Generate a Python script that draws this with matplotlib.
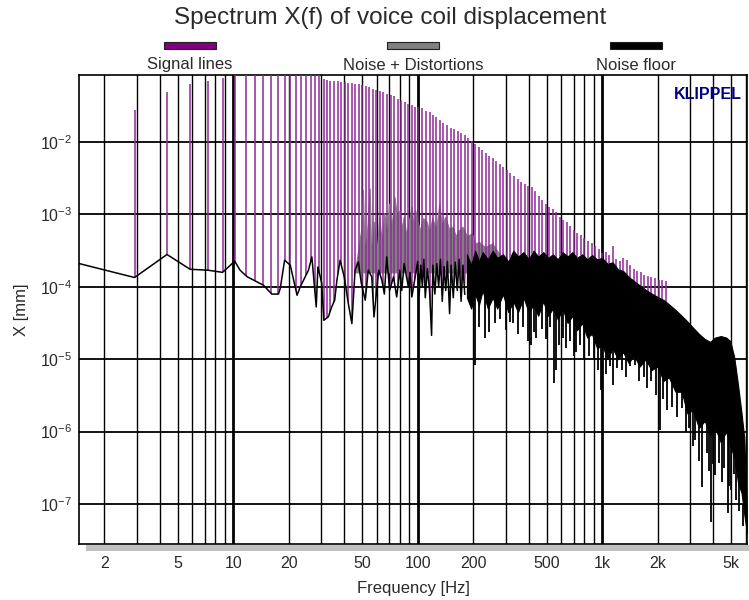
import numpy as np
import matplotlib
matplotlib.use("Agg")
import matplotlib.pyplot as plt
from matplotlib.patches import Rectangle, Polygon
from matplotlib.ticker import FixedLocator, FuncFormatter, NullLocator, LogFormatterSciNotation

plt.rcParams['font.family'] = ['Liberation Sans', 'DejaVu Sans']
plt.rcParams['mathtext.fontset'] = 'custom'
plt.rcParams['mathtext.rm'] = 'Liberation Sans'
plt.rcParams['mathtext.it'] = 'Liberation Sans'

# signal lines of the multitone: frequency [Hz] and log10 of X [mm]
signal_freq = [2.92, 4.38, 5.84, 7.30, 8.76, 10.2, 11.7, 13.1, 14.6, 16.1, 17.5, 19.0, 20.4, 21.9, 23.4, 24.8, 26.3, 27.7, 29.2,
               30.9, 32.3, 33.7, 35.2, 36.8, 38.5, 40.2, 42.0, 43.9, 45.9, 48.0, 50.1, 52.4, 54.7, 57.2, 59.8, 62.5, 65.3,
               68.2, 71.3, 74.5, 77.8, 81.3, 85.0, 88.8, 92.8, 97.0,
               101, 106, 111, 116, 121, 126, 132, 138, 144, 151, 157, 165, 172, 180, 188, 196, 205, 214, 224, 234,
               244, 255, 267, 279, 292, 305, 318, 333, 348, 363, 380, 397, 415, 433, 453, 473, 494, 517, 540, 564,
               590, 616, 644, 673, 703, 735, 768, 802, 838, 876, 916, 957, 1000, 1045, 1092, 1141, 1192, 1246, 1302, 1361,
               1422, 1486, 1553, 1622, 1695, 1772, 1851, 1935, 2022, 2113, 2208]
signal_exp = [-1.557, -1.304, -1.202, -1.152, -1.110, -1.0, -1.0, -1.0, -1.0, -1.0, -1.0, -1.0, -1.0, -1.0, -1.0, -1.0, -1.0, -1.0, -1.0,
              -1.13, -1.14, -1.15, -1.155, -1.16, -1.17, -1.175, -1.18, -1.19, -1.195, -1.20, -1.21, -1.23, -1.245, -1.26, -1.275, -1.29, -1.31,
              -1.33, -1.35, -1.37, -1.40, -1.43, -1.45, -1.47, -1.49, -1.51,
              -1.52, -1.535, -1.57, -1.59, -1.62, -1.66, -1.69, -1.73, -1.77, -1.80, -1.82, -1.85, -1.87, -1.90, -1.94, -1.98, -2.02, -2.07, -2.11, -2.15,
              -2.19, -2.22, -2.26, -2.30, -2.34, -2.39, -2.43, -2.47, -2.51, -2.55, -2.58, -2.60, -2.62, -2.68, -2.74, -2.80, -2.86, -2.90, -2.93, -2.97,
              -3.03, -3.07, -3.11, -3.16, -3.21, -3.25, -3.29, -3.33, -3.36, -3.40, -3.44, -3.48, -3.53, -3.52, -3.56, -3.43, -3.62, -3.64, -3.60, -3.63,
              -3.70, -3.76, -3.78, -3.79, -3.83, -3.85, -3.87, -3.88, -3.90, -3.91, -3.92]

# noise floor, low frequency part (single trace)
noise_freq = [1.46, 2.92, 4.38, 5.84, 7.30, 8.76, 10.2, 10.9, 11.9, 14.6, 16.2, 17.6, 18.0, 19.0, 20.4, 22.2, 23.1,
              25.6, 26.7, 27.1, 28.2, 28.8, 30.2, 31.0, 32.8, 34.2, 35.5, 36.5, 38.0, 40.0, 42.1, 44.0, 45.8, 47.7,
              49.5, 52.0, 54.0, 56.4, 58.0, 61.5, 64.0, 66.0, 68.0, 70.5, 74.0, 77.0, 80.0, 82.0, 84.5, 89.0, 91.0,
              93.0, 97.0, 100, 102, 104, 106, 108, 110, 113, 116, 119, 121, 124, 127, 130, 133, 136, 139, 142, 145,
              149, 152, 156, 160, 164, 168, 172, 176, 180]
noise_exp = [-3.678, -3.871, -3.553, -3.757, -3.77, -3.80, -3.646, -3.77, -3.86, -3.978, -4.10, -4.10, -4.02, -3.632, -3.70, -4.116, -4.0,
             -3.77, -3.586, -3.77, -4.278, -3.725, -3.95, -4.462, -4.415, -4.278, -4.185, -3.909, -3.632, -3.863, -4.231, -4.508, -3.77, -3.656,
             -3.95, -4.185, -3.77, -3.863, -4.416, -3.77, -3.909, -4.10, -3.586, -4.05, -3.863, -4.14, -3.77, -4.05, -3.678, -4.0, -3.80,
             -4.14, -3.863, -3.65, -4.10, -3.70, -4.00, -3.62, -4.15, -3.75, -4.05, -4.67, -3.70, -4.10, -3.68, -4.00, -3.62, -4.20, -3.72, -4.05, -3.65,
             -4.37, -3.70, -4.15, -3.66, -4.05, -3.62, -4.20, -3.70, -4.10]

# noise floor, dense part: upper and lower edge
dense_freq = [185, 195, 205, 215, 225, 240, 255, 270, 290, 310, 330, 350, 375, 400, 425, 450, 480, 510, 540, 575,
              610, 650, 690, 730, 780, 830, 880, 940, 1000, 1070, 1140, 1220, 1300, 1390, 1490, 1600, 1720, 1850, 2000,
              2150, 2300, 2500, 2700, 2900, 3100, 3350, 3600, 3850, 4100, 4400, 4700, 4950, 5200, 5450, 5700, 5900, 6100]
dense_hi = [-3.55, -3.70, -3.50, -3.65, -3.52, -3.62, -3.50, -3.60, -3.55, -3.65, -3.50, -3.58, -3.52, -3.62, -3.50, -3.58, -3.52, -3.60, -3.55, -3.62,
            -3.52, -3.58, -3.52, -3.60, -3.55, -3.62, -3.56, -3.62, -3.60, -3.68, -3.66, -3.76, -3.78, -3.86, -3.92, -3.98, -4.04, -4.09, -4.14,
            -4.18, -4.24, -4.32, -4.40, -4.48, -4.56, -4.65, -4.72, -4.76, -4.70, -4.68, -4.70, -4.75, -4.97, -5.35, -5.75, -6.10, -7.20]
dense_lo = [-4.15, -4.30, -4.10, -4.25, -4.05, -4.30, -4.15, -4.30, -4.10, -4.35, -4.20, -4.35, -4.15, -4.35, -4.25, -4.40, -4.20, -4.40, -4.30, -4.45,
            -4.30, -4.50, -4.40, -4.60, -4.50, -4.70, -4.65, -4.85, -4.80, -5.00, -4.85, -5.00, -4.90, -5.05, -4.95, -5.10, -5.00, -5.15, -5.10,
            -5.30, -5.25, -5.45, -5.45, -5.75, -5.70, -5.95, -5.85, -6.05, -5.95, -6.15, -6.00, -6.20, -6.35, -6.70, -6.85, -7.15, -7.40]

# downward spikes of the noise floor (bottom and top, log10 of X [mm])
spike_freq = [205, 215, 232, 244, 262, 280, 300, 318, 330, 352, 372, 395, 414, 428, 440, 470, 495, 520, 547, 560,
              585, 610, 640, 668, 700, 720, 760, 800, 850, 900, 950, 990,
              1050, 1100, 1143, 1200, 1280, 1350, 1420, 1500, 1580, 1680, 1760, 1850, 1950, 2050,
              2150, 2250, 2400, 2550, 2700, 2850, 2950, 3100, 3200, 3350, 3500, 3700, 3800, 3900, 4000, 4100, 4300,
              4450, 4600, 4800, 4900, 5000, 5200, 5350, 5500, 5800]
spike_bottom = [-5.08, -4.55, -4.70, -4.62, -4.50, -4.45, -4.60, -4.48, -4.50, -4.65, -4.55, -4.75, -4.80, -4.62, -4.70, -4.58, -4.72, -4.55, -5.33, -5.15,
                -4.80, -4.70, -4.85, -4.75, -4.95, -4.90, -4.80, -5.00, -4.95, -5.00, -5.15, -5.43,
                -5.20, -5.10, -5.36, -5.12, -5.15, -5.25, -5.10, -5.08, -5.30, -5.25, -5.40, -5.30, -5.50, -5.98,
                -5.55, -5.70, -5.66, -5.80, -5.68, -6.00, -5.95, -6.20, -6.12, -6.40, -6.77, -6.30, -6.55, -7.25, -6.45, -6.60, -6.44,
                -6.70, -6.50, -7.13, -6.75, -6.80, -6.58, -6.95, -7.10, -7.30]
spike_top = [-4.10, -4.10, -4.10, -4.10, -4.10, -4.10, -4.10, -4.10, -4.10, -4.15, -4.15, -4.15, -4.15, -4.15, -4.15, -4.20, -4.20, -4.20, -4.25, -4.25,
             -4.25, -4.30, -4.30, -4.35, -4.35, -4.40, -4.45, -4.50, -4.55, -4.60, -4.70, -4.75,
             -4.80, -4.80, -4.85, -4.85, -4.85, -4.90, -4.90, -4.90, -4.95, -4.95, -5.00, -5.00, -5.05, -5.05,
             -5.15, -5.20, -5.25, -5.35, -5.40, -5.60, -5.65, -5.70, -5.75, -5.80, -5.85, -5.90, -5.90, -5.95, -5.95, -5.95, -6.00,
             -6.00, -6.00, -6.05, -6.05, -6.10, -6.25, -6.40, -6.60, -7.00]

# noise + distortions (upper edge)
gray_freq = [46, 49.5, 50.5, 51.5, 53, 55, 56, 58, 60, 62, 64, 66, 68, 70, 72, 75, 77, 80, 82, 84, 87, 89, 93, 95, 97,
             100, 103, 107, 112, 116, 120, 126, 131, 135, 141, 148, 155, 161, 167, 175, 185, 197, 205, 215, 232, 254, 276, 300]
gray_exp = [-3.75, -3.2, -2.66, -3.5, -3.3, -2.64, -3.6, -3.1, -3.5, -3.03, -3.4, -2.98, -3.3, -2.85, -3.2, -2.76, -3.0, -2.94, -3.2, -3.03,
            -3.3, -3.12, -2.89, -3.2, -2.94, -3.1, -3.22, -3.05, -3.10, -3.25, -3.05, -3.2, -2.85, -3.15, -3.03, -3.2, -3.17, -3.3, -3.22, -3.17,
            -3.3, -3.26, -3.4, -3.38, -3.45, -3.40, -3.54, -3.6]
gray_floor = -3.8

# axis ticks
freq_major = [10, 100, 1000]
freq_minor = [2, 3, 4, 5, 6, 7, 8, 9, 20, 30, 40, 50, 60, 70, 80, 90,
              200, 300, 400, 500, 600, 700, 800, 900, 2000, 3000, 4000, 5000, 6000]
freq_labelled = [2, 5, 20, 50, 200, 500, 2000, 5000]
x_ticks = [1e-7, 1e-6, 1e-5, 1e-4, 1e-3, 1e-2]

xlim = (1.46, 6100)
ylim = (2.8e-8, 0.0845)
purple = '#8e2a96'
textc = '#2a2a2a'

fig = plt.figure(figsize=(7.49, 6.0), dpi=100)
ax = fig.add_axes([79 / 749, 56 / 600, 668 / 749, 469 / 600])
ax.set_xscale('log')
ax.set_yscale('log')
ax.set_xlim(*xlim)
ax.set_ylim(*ylim)

# gray: noise + distortions
ax.fill_between(gray_freq, 10.0 ** gray_floor, 10.0 ** np.array(gray_exp), color='#808080', lw=0.8, zorder=2)

# purple signal lines, clipped so that they start on the noise floor
floor_f = [f for f in noise_freq if f < 185] + dense_freq
floor_e = [e for f, e in zip(noise_freq, noise_exp) if f < 185] + dense_hi
verts = list(zip(floor_f, 10.0 ** np.array(floor_e))) + [(floor_f[-1], 1.0), (floor_f[0], 1.0)]
clip = Polygon(verts, closed=True, transform=ax.transData)
lines = ax.vlines(signal_freq, 1e-9, 10.0 ** np.array(signal_exp), color=purple, lw=1.1, zorder=3)
lines.set_clip_path(clip)

# black noise floor
ax.plot(noise_freq, 10.0 ** np.array(noise_exp), color='black', lw=1.1, zorder=4)
ax.fill_between(dense_freq, 10.0 ** np.array(dense_lo), 10.0 ** np.array(dense_hi), color='black', lw=0.8, zorder=4)
ax.vlines(spike_freq, 10.0 ** np.array(spike_bottom), 10.0 ** np.array(spike_top), color='black', lw=1.3, zorder=4)


def fmt_freq(v, pos):
    if v >= 1000:
        return '%dk' % round(v / 1000)
    return '%d' % round(v)


ax.xaxis.set_major_locator(FixedLocator(freq_major))
ax.xaxis.set_minor_locator(FixedLocator(freq_minor))
ax.xaxis.set_major_formatter(FuncFormatter(fmt_freq))
ax.xaxis.set_minor_formatter(FuncFormatter(lambda v, pos: fmt_freq(v, pos) if round(v) in freq_labelled else ''))
ax.yaxis.set_major_locator(FixedLocator(x_ticks))
ax.yaxis.set_major_formatter(LogFormatterSciNotation())
ax.yaxis.set_minor_locator(NullLocator())
ax.set_axisbelow(True)
ax.grid(which='major', axis='x', color='black', lw=2.0)
ax.grid(which='minor', axis='x', color='black', lw=1.0)
ax.grid(which='major', axis='y', color='black', lw=1.3)
ax.tick_params(which='both', length=0, labelsize=11.5, colors=textc)
ax.tick_params(axis='x', which='both', pad=9)
ax.tick_params(axis='y', pad=5)
for s in ax.spines.values():
    s.set_linewidth(1.2)

ax.set_xlabel('Frequency [Hz]', fontsize=12, color=textc, labelpad=7)
ax.set_ylabel('X [mm]', fontsize=12, color=textc, labelpad=8)
ax.text(0.992, 0.975, 'KLIPPEL', transform=ax.transAxes, ha='right', va='top',
        fontsize=11.5, fontweight='bold', color='#000080')

fig.text(390 / 749, 1 - 18 / 600, 'Spectrum X(f) of voice coil displacement', ha='center', va='center',
         fontsize=17.5, color=textc)

# legend bars and labels above the plot
legend_items = [('Signal lines', '#800080', 190), ('Noise + Distortions', '#808080', 413), ('Noise floor', 'black', 636)]
for label, col, xc in legend_items:
    fig.patches.append(Rectangle(((xc - 26) / 749, 1 - 49 / 600), 52 / 749, 7 / 600, transform=fig.transFigure,
                                 facecolor=col, edgecolor='#202020', lw=0.8))
    fig.text(xc / 749, 1 - 65 / 600, label, ha='center', va='center', fontsize=12, color=textc)

# gray shadow under the plot area
fig.patches.append(Rectangle((86 / 749, 1 - 551 / 600), 663 / 749, 6 / 600, transform=fig.transFigure,
                             facecolor='#c0c0c0', edgecolor='none'))

fig.savefig('out.png', dpi=100)
